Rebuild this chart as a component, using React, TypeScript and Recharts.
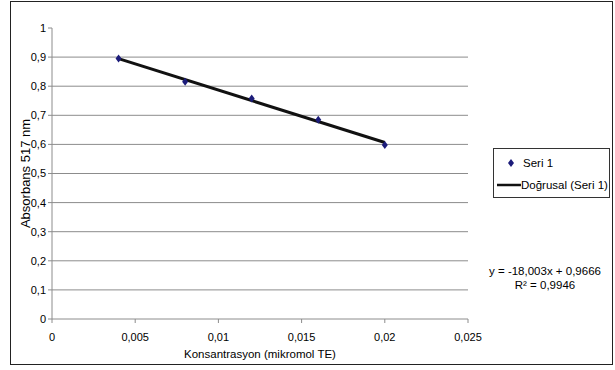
import React from 'react';
import {
  ComposedChart,
  Scatter,
  XAxis,
  YAxis,
  CartesianGrid,
  Label
} from 'recharts';

// measured concentrations and absorbance readings
const concentrations = [0.004, 0.008, 0.012, 0.016, 0.02];
const absorbances = [0.895, 0.815, 0.758, 0.685, 0.598];

// linear fit shown on the chart
const slope = -18.003;
const intercept = 0.9666;
const rSquared = 0.9946;
const trendRange = [0.004, 0.02];

const xTicks = [0, 0.005, 0.01, 0.015, 0.02, 0.025];
const yTicks = [0, 0.1, 0.2, 0.3, 0.4, 0.5, 0.6, 0.7, 0.8, 0.9, 1];

const seriesName = 'Seri 1';
const trendName = 'Doğrusal (Seri 1)';

const points = concentrations.map((x, i) => ({ x, y: absorbances[i] }));
const trend = trendRange.map((x) => ({ x, y: slope * x + intercept }));
// excel draws no gridline at the top value
const gridValues = yTicks.filter((v) => v > 0 && v < 1);

const FONT = '"Liberation Sans", Arial, sans-serif';
const MARKER = '#1c1c7a';
const GRID = '#8c8c8c';

const comma = (v: number) => String(v).replace('.', ',');

const Diamond = (props: any) => {
  const { cx, cy } = props;
  if (cx == null || cy == null) return <g />;
  return (
    <polygon
      points={`${cx},${cy - 4} ${cx + 3},${cy} ${cx},${cy + 4} ${cx - 3},${cy}`}
      fill={MARKER}
    />
  );
};

const LegendBox = () => (
  <div style={{
    position: 'absolute',
    left: 493,
    top: 148,
    width: 117,
    height: 50,
    border: '1px solid #333',
    background: '#fff',
    fontFamily: FONT,
    fontSize: 11.5,
    color: '#000',
    boxSizing: 'border-box',
    paddingTop: 6
  }}>
    <div style={{ display: 'flex', alignItems: 'center', height: 16 }}>
      <svg width={29} height={10}>
        <polygon points="17,1 20,5 17,9 14,5" fill={MARKER} />
      </svg>
      <span>{seriesName}</span>
    </div>
    <div style={{ display: 'flex', alignItems: 'center', height: 16, marginTop: 6 }}>
      <svg width={27} height={10}>
        <line x1={3} y1={5} x2={27} y2={5} stroke="#111" strokeWidth={2.5} />
      </svg>
      <span>{trendName}</span>
    </div>
  </div>
);

export default function App() {
  return (
    <div style={{ position: 'absolute', left: 0, top: 0, width: 615, height: 370, background: '#fff' }}>
      <div style={{
        position: 'absolute',
        left: 10,
        top: 1,
        width: 601,
        height: 362,
        border: '1px solid #222'
      }} />
      <ComposedChart
        width={615}
        height={370}
        margin={{ top: 28, right: 147, left: 22, bottom: 21 }}
        style={{ fontFamily: FONT, position: 'absolute', left: 0, top: 0 }}
      >
        <CartesianGrid horizontal vertical={false} horizontalValues={gridValues} stroke={GRID} />
        <XAxis
          type="number"
          dataKey="x"
          domain={[0, 0.025]}
          ticks={xTicks}
          tickFormatter={comma}
          height={30}
          stroke={GRID}
          tickSize={4}
          tick={{ fill: '#000', fontSize: 11, dy: 8 }}
          allowDataOverflow
        >
          <Label value="Konsantrasyon (mikromol TE)" position="bottom" offset={1} fill="#000" fontSize={11.5} />
        </XAxis>
        <YAxis
          type="number"
          dataKey="y"
          domain={[0, 1]}
          ticks={yTicks}
          tickFormatter={comma}
          width={30}
          stroke={GRID}
          tickSize={4}
          tick={{ fill: '#000', fontSize: 11 }}
        >
          <Label value="Absorbans 517 nm" angle={-90} position="insideLeft" offset={3} fill="#000" fontSize={13} style={{ textAnchor: 'middle' }} />
        </YAxis>
        <Scatter
          name={trendName}
          data={trend}
          line={{ stroke: '#111', strokeWidth: 3 }}
          shape={() => <g />}
          isAnimationActive={false}
        />
        <Scatter
          name={seriesName}
          data={points}
          shape={Diamond}
          isAnimationActive={false}
        />
      </ComposedChart>
      <LegendBox />
      <div style={{
        position: 'absolute',
        left: 475,
        top: 264,
        width: 140,
        textAlign: 'center',
        fontFamily: FONT,
        fontSize: 11.5,
        lineHeight: '14px',
        color: '#000'
      }}>
        <div>y = {comma(slope)}x + {comma(intercept)}</div>
        <div>R² = {comma(rSquared)}</div>
      </div>
    </div>
  );
}
